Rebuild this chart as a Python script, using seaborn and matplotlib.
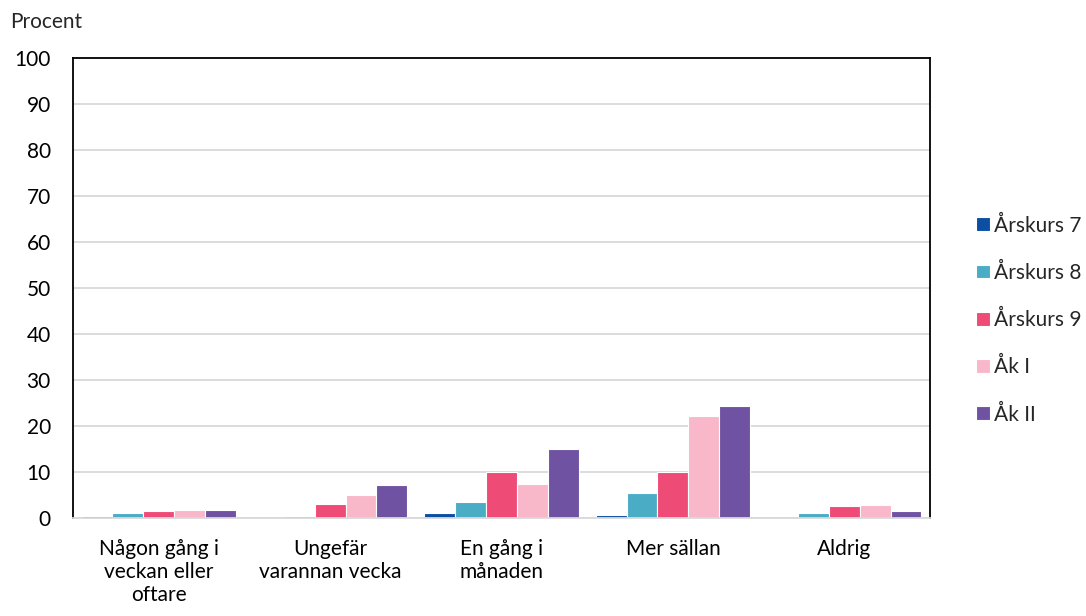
import pandas as pd
import numpy as np
import matplotlib.pyplot as plt
import seaborn as sns

sns.set_theme(style="white")
plt.rcParams['font.family'] = ['Lato', 'DejaVu Sans']

# Data
categories = ['Någon gång i\nveckan eller\noftare', 'Ungefär\nvarannan vecka',
              'En gång i\nmånaden', 'Mer sällan', 'Aldrig']
groups = ['Årskurs 7', 'Årskurs 8', 'Årskurs 9', 'Åk I', 'Åk II']
ak7 = [0.4, 0.0, 1.0, 0.7, 0.0]
ak8 = [1.0, 0.4, 3.4, 5.5, 1.0]
ak9 = [1.6, 3.0, 10.0, 10.0, 2.6]
ak1 = [1.8, 5.1, 7.3, 22.1, 2.9]
ak2 = [1.7, 7.1, 14.9, 24.3, 1.6]
colors = ['#0B4EA2', '#4BACC6', '#EF4B77', '#F9B8C9', '#6F52A1']

rows = []
for g, vals in zip(groups, [ak7, ak8, ak9, ak1, ak2]):
    for c, v in zip(categories, vals):
        rows.append({'kategori': c, 'grupp': g, 'procent': v})
df = pd.DataFrame(rows)

fs = 15

fig = plt.figure(figsize=(10.86, 6.16), dpi=100)
ax = fig.add_axes([73 / 1086, 1 - 518 / 616, 857 / 1086, 460 / 616])

sns.barplot(data=df, x='kategori', y='procent', hue='grupp', palette=colors,
            order=categories, hue_order=groups, width=0.9, saturation=1,
            edgecolor='white', linewidth=0.8, ax=ax, legend=True)

ax.set_ylim(0, 100)
ax.set_yticks(range(0, 101, 10))
ax.yaxis.grid(True, color='#d9d9d9', linewidth=1.3)
ax.set_axisbelow(True)
ax.set_xlabel('')
ax.set_ylabel('')
ax.tick_params(axis='both', length=0, labelsize=fs, colors='black')
ax.tick_params(axis='x', pad=15)
ax.tick_params(axis='y', pad=16)
for s in ['left', 'top', 'right']:
    ax.spines[s].set_color('black')
    ax.spines[s].set_linewidth(1.3)
ax.spines['bottom'].set_color('#d9d9d9')
ax.spines['bottom'].set_linewidth(1.3)

fig.text(10 / 1086, 1 - 22 / 616, 'Procent', fontsize=fs, va='center', ha='left')

handles, labels = ax.get_legend_handles_labels()
ax.get_legend().remove()
fig.legend(handles, labels, loc='center left', bbox_to_anchor=(966 / 1086, 1 - 320 / 616),
           frameon=False, fontsize=fs, handlelength=0.65, handleheight=0.65,
           handletextpad=0.2, labelspacing=1.3, borderpad=0)

fig.savefig('out.png', dpi=100)
